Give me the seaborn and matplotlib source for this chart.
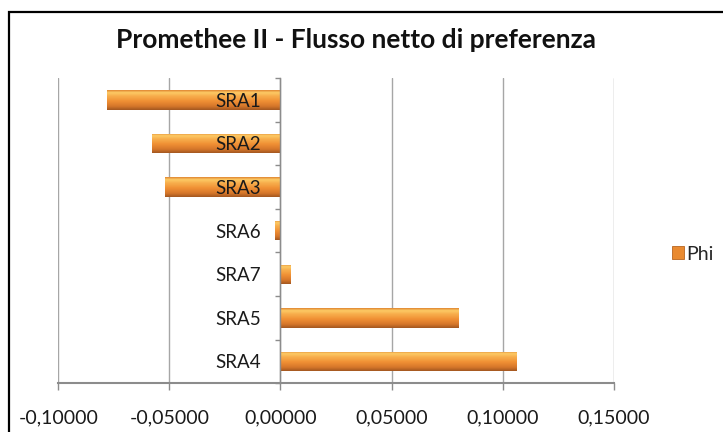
import numpy as np
import pandas as pd
import matplotlib
matplotlib.use("Agg")
import matplotlib.pyplot as plt
import seaborn as sns
from matplotlib.colors import LinearSegmentedColormap
from matplotlib.patches import Rectangle
from matplotlib.ticker import FuncFormatter

# Net preference flow (Phi) per alternative
alternatives = ["SRA1", "SRA2", "SRA3", "SRA6", "SRA7", "SRA5", "SRA4"]
phi = [-0.0782, -0.0580, -0.0518, -0.0025, 0.0048, 0.0805, 0.1066]
series_name = "Phi"
title = "Promethee II - Flusso netto di preferenza"
x_ticks = [-0.10, -0.05, 0.00, 0.05, 0.10, 0.15]

df = pd.DataFrame({"alt": alternatives, "phi": phi, "serie": series_name})

sns.set_theme(style="white")
plt.rcParams["font.family"] = ["Lato", "DejaVu Sans"]

W, H = 723, 432
fig = plt.figure(figsize=(W / 100, H / 100), dpi=100)
ax = fig.add_axes([58.3 / W, 1 - 383.3 / H, (613.7 - 58.3) / W, (383.3 - 78) / H])

sns.barplot(data=df, x="phi", y="alt", hue="serie", orient="h",
            palette=["#EE8E32"], width=0.445, ax=ax, zorder=2,
            edgecolor="none", linewidth=0)

# vertical bevel gradient painted inside each bar
bevel = LinearSegmentedColormap.from_list("bevel", [
    (0.00, "#E08632"), (0.12, "#FDCB66"), (0.28, "#F8B04E"),
    (0.55, "#F09034"), (0.82, "#D5762A"), (1.00, "#A35720")])
grad = np.linspace(0, 1, 64).reshape(-1, 1)
for p in list(ax.patches):
    x0, y0 = p.get_x(), p.get_y()
    w, h = p.get_width(), p.get_height()
    im = ax.imshow(grad, cmap=bevel, aspect="auto", interpolation="bilinear",
                   extent=(x0, x0 + w, y0 + h, y0), zorder=2.1)
    im.set_clip_path(p)

ax.set_xlim(-0.10, 0.15)
ax.set_ylim(6.5, -0.5)
ax.set_xticks(x_ticks)
ax.xaxis.set_major_formatter(FuncFormatter(
    lambda v, _: f"{v:.5f}".replace(".", ",").replace("-0,00000", "0,00000")))
ax.set_xlabel("")
ax.set_ylabel("")

# gridlines behind the bars, category labels in front of them
ax.grid(axis="x", color="#A6A6A6", linewidth=1.0)
ax.grid(axis="y", visible=False)
ax.xaxis.set_zorder(0.5)
ax.yaxis.set_zorder(4)

for s in ["top", "right"]:
    ax.spines[s].set_visible(False)
ax.spines["left"].set_position(("data", 0))
ax.spines["left"].set_color("#8C8C8C")
ax.spines["left"].set_linewidth(1.0)
ax.spines["left"].set_zorder(3)
ax.spines["bottom"].set_color("#8C8C8C")
ax.spines["bottom"].set_linewidth(1.5)
ax.spines["bottom"].set_zorder(3)

ax.set_yticks(range(len(alternatives)))
ax.set_yticks(np.arange(-0.5, 7, 1), minor=True)
ax.tick_params(axis="y", which="major", left=False, length=0, pad=14,
               labelsize=13.5, labelcolor="#1A1A1A")
ax.tick_params(axis="y", which="minor", left=True, length=3.5, width=1,
               color="#8C8C8C", direction="out")
ax.tick_params(axis="x", which="major", bottom=True, length=5, width=1,
               color="#8C8C8C", direction="out", pad=14, labelsize=14,
               labelcolor="#1A1A1A")

leg = ax.legend(loc="center left", bbox_to_anchor=(672 / W, 1 - 254 / H),
                bbox_transform=fig.transFigure, frameon=False, fontsize=14,
                handlelength=0.6, handleheight=0.6, handletextpad=0.15,
                borderpad=0, borderaxespad=0)
for hdl in leg.legend_handles:
    hdl.set_facecolor("#E98A30")
    hdl.set_edgecolor("#B8651F")
    hdl.set_linewidth(0.6)

fig.text(356 / W, 1 - 40 / H, title, ha="center", va="center",
         fontsize=19, fontweight="bold", color="#111111")

# chart frame
fig.patches.append(Rectangle((9 / W, -0.05), 1.2, 1 - 12 / H + 0.05,
                             transform=fig.transFigure, fill=False,
                             edgecolor="black", linewidth=1.6, zorder=10))

fig.savefig("out.png", dpi=100)
